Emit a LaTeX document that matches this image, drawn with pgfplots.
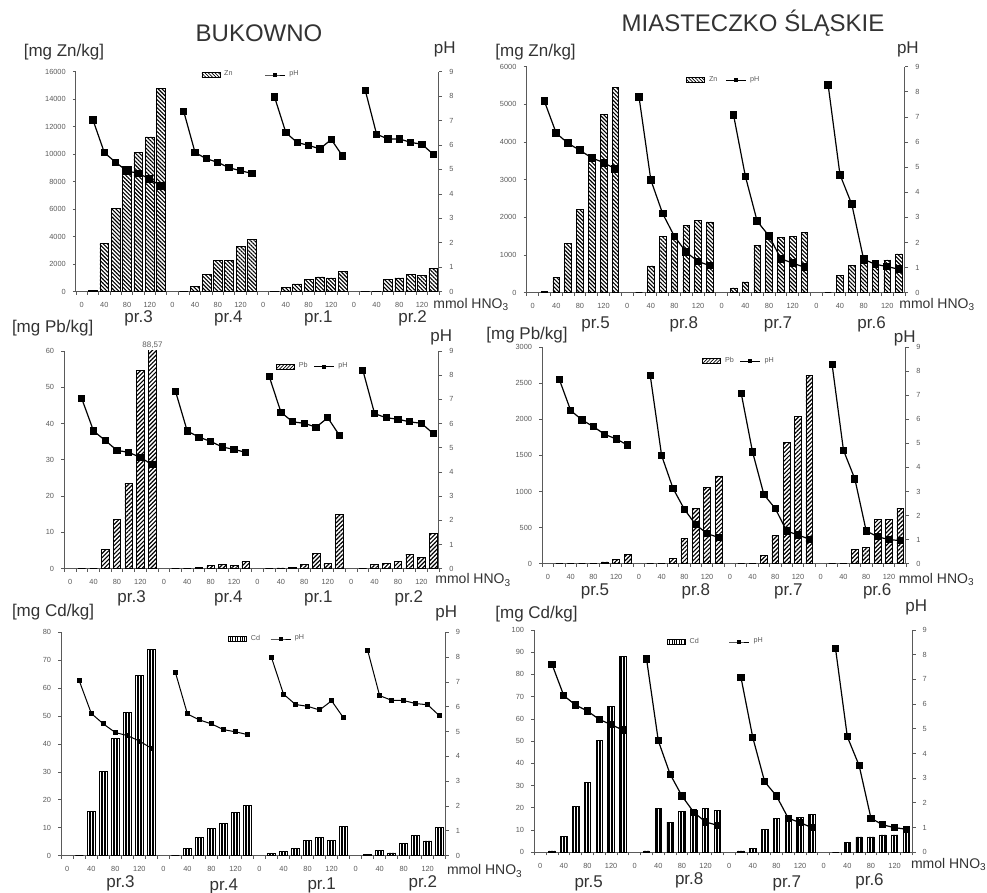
\documentclass[border=0pt]{standalone}
\usepackage{fontspec}
\setmainfont{Liberation Sans}
\usepackage{pgfplots}
\pgfplotsset{compat=1.18}
\usepackage{pgfplotstable}
\usetikzlibrary{patterns.meta}

\definecolor{ax}{HTML}{5A5A5A}
\definecolor{tx}{HTML}{333333}

\newcommand{\tkf}{\fontsize{3.7}{4.1}\selectfont}
\newcommand{\lgf}{\fontsize{3.6}{4}\selectfont}
\newcommand{\ubf}{\fontsize{8.5}{10}\selectfont}
\newcommand{\hno}{\fontsize{7}{8}\selectfont mmol HNO\textsubscript{3}}

\pgfplotsset{
  panel/.style={scale only axis, xmin=-0.5, xmax=31.5, ymin=0,
    unbounded coords=jump,
    axis line style={ax, line width=0.5pt},
    tick style={ax, line width=0.4pt},
    major tick length=1.6pt,
    tick align=outside,
    ticklabel style={font=\tkf, text=ax},
    /pgf/number format/assume math mode=true,
    /pgf/number format/1000 sep={},
    scaled y ticks=false},
  barax/.style={panel, axis y line*=left, axis x line*=bottom, ybar,
    xtick={-0.5,0.5,...,31.5}, xticklabels={},
    extra x ticks={0,2,...,30},
    extra x tick labels={0,40,80,120,0,40,80,120,0,40,80,120,0,40,80,120},
    extra x tick style={major tick length=0pt},
    xticklabel style={yshift=-2pt}},
  phax/.style={panel, axis y line*=right, axis x line=none, ymax=9, ytick={0,1,...,9},
    legend columns=2,
    legend style={draw=none, fill=none, font=\lgf, text=ax, anchor=center}},
  phline/.style={black, line width=0.6pt, mark=square*,
    legend image code/.code={\draw[mark repeat=2,mark phase=2,##1,mark size=0.8pt,line width=0.4pt] plot coordinates {(0pt,0pt) (5pt,0pt) (10pt,0pt)};}},
}

% x = slot (8 per sample: 0,20,...,140 mmol), m = metal, p = pH
\pgfplotstableread{
x m p
0 nan nan
1 100 7.02
2 3500 5.69
3 6050 5.29
4 9100 4.94
5 10130 4.84
6 11250 4.61
7 14800 4.32
8 nan nan
9 0 7.37
10 410 5.69
11 1280 5.44
12 2300 5.29
13 2300 5.07
14 3300 4.95
15 3800 4.84
16 nan nan
17 0 7.97
18 320 6.51
19 560 6.10
20 870 5.99
21 1070 5.84
22 1000 6.23
23 1450 5.55
24 nan nan
25 0 8.24
26 0 6.44
27 920 6.25
28 1000 6.25
29 1260 6.11
30 1210 6.03
31 1670 5.62
}\bZn

\pgfplotstableread{
x m p
0 nan nan
1 35 7.62
2 400 6.35
3 1300 5.95
4 2220 5.67
5 3590 5.37
6 4730 5.18
7 5450 4.93
8 nan nan
9 0 7.80
10 710 4.49
11 1500 3.15
12 1560 2.24
13 1780 1.61
14 1920 1.24
15 1880 1.08
16 nan nan
17 125 7.07
18 285 4.63
19 1260 2.84
20 1560 2.26
21 1470 1.35
22 1500 1.18
23 1610 1.01
24 nan nan
25 0 8.27
26 450 4.70
27 725 3.52
28 780 1.33
29 860 1.13
30 870 1.04
31 1030 0.93
}\mZn

\pgfplotstableread{
x m p
0 nan nan
1 0 7.02
2 0 5.69
3 5.3 5.30
4 13.6 4.89
5 23.5 4.81
6 54.6 4.60
7 88.57 4.30
8 nan nan
9 0 7.33
10 0 5.69
11 0.4 5.44
12 1.0 5.26
13 1.2 5.03
14 0.8 4.93
15 1.9 4.81
16 nan nan
17 0 7.95
18 0.2 6.47
19 0.4 6.07
20 1.2 6.01
21 4.1 5.85
22 1.4 6.24
23 15.0 5.51
24 nan nan
25 0 8.20
26 1.1 6.41
27 1.5 6.24
28 2.0 6.18
29 4.0 6.07
30 3.0 6.01
31 9.7 5.59
}\bPb

\pgfplotstableread{
x m p
0 nan nan
1 0 7.65
2 0 6.36
3 0 5.97
4 0 5.69
5 25 5.37
6 55 5.18
7 130 4.93
8 nan nan
9 0 7.81
10 0 4.49
11 75 3.13
12 346 2.26
13 766 1.62
14 1061 1.25
15 1214 1.09
16 nan nan
17 0 7.08
18 0 4.64
19 115 2.87
20 392 2.29
21 1684 1.36
22 2035 1.19
23 2603 1.02
24 nan nan
25 0 8.27
26 0 4.71
27 194 3.52
28 226 1.36
29 618 1.12
30 618 1.00
31 766 0.96
}\mPb

\pgfplotstableread{
x m p
0 nan nan
1 0 7.04
2 16.0 5.73
3 30.1 5.31
4 42.0 4.96
5 51.3 4.84
6 64.6 4.62
7 73.9 4.33
8 nan nan
9 0 7.38
10 2.6 5.71
11 6.6 5.47
12 9.8 5.31
13 11.7 5.08
14 15.5 4.99
15 18.1 4.88
16 nan nan
17 0.7 7.98
18 1.6 6.51
19 2.6 6.09
20 5.5 6.02
21 6.6 5.87
22 5.5 6.24
23 10.6 5.55
24 nan nan
25 0.5 8.28
26 2.0 6.45
27 1.0 6.26
28 4.3 6.25
29 7.2 6.13
30 5.3 6.08
31 10.0 5.63
}\bCd

\pgfplotstableread{
x m p
0 nan nan
1 0.6 7.61
2 7.2 6.34
3 20.5 5.96
4 31.5 5.72
5 50.5 5.38
6 65.8 5.17
7 88.0 4.95
8 nan nan
9 0.6 7.83
10 19.6 4.51
11 13.6 3.16
12 18.4 2.28
13 18.9 1.62
14 19.6 1.23
15 18.7 1.09
16 nan nan
17 0.6 7.07
18 1.8 4.64
19 10.2 2.86
20 15.3 2.28
21 15.4 1.38
22 15.6 1.20
23 17.2 1.00
24 nan nan
25 0 8.25
26 4.6 4.68
27 6.9 3.51
28 6.9 1.38
29 7.8 1.11
30 7.8 1.00
31 11.1 0.93
}\mCd

\begin{document}
\begin{tikzpicture}
\useasboundingbox (0pt,0pt) rectangle (493.5pt,446.5pt);

% ---------- Bukowno Zn ----------
\begin{axis}[barax, at={(38pt,300.65pt)}, anchor=south west, width=181.5pt, height=110pt,
  ymax=16000, ytick={0,2000,...,16000}, bar width=0.78]
\addplot[draw=black, line width=0.35pt, pattern={Lines[angle=-45,distance=1.4pt,line width=0.55pt]}] table[x=x,y=m]{\bZn};
\end{axis}
\begin{axis}[phax, at={(38pt,300.65pt)}, anchor=south west, width=181.5pt, height=110pt,
  legend style={at={(0.485,0.985)}, /tikz/every even column/.append style={column sep=14pt}}]
\addlegendimage{legend image code/.code={\draw[black,line width=0.3pt,pattern={Lines[angle=-45,distance=1.2pt,line width=0.35pt]}] (0pt,-1.3pt) rectangle (9pt,1.3pt);}}
\addlegendentry{Zn}
\addplot[phline, mark size=1.55pt] table[x=x,y=p]{\bZn};
\addlegendentry{pH}
\end{axis}

% ---------- Miasteczko Zn ----------
\begin{axis}[barax, at={(263.35pt,300.15pt)}, anchor=south west, width=189.15pt, height=113pt,
  ymax=6000, ytick={0,1000,...,6000}, bar width=0.56]
\addplot[draw=black, line width=0.35pt, pattern={Lines[angle=-45,distance=1.4pt,line width=0.55pt]}] table[x=x,y=m]{\mZn};
\end{axis}
\begin{axis}[phax, at={(263.35pt,300.15pt)}, anchor=south west, width=189.15pt, height=113pt,
  legend style={at={(0.524,0.941)}, /tikz/every even column/.append style={column sep=2pt}}]
\addlegendimage{legend image code/.code={\draw[black,line width=0.3pt,pattern={Lines[angle=-45,distance=1.2pt,line width=0.35pt]}] (0pt,-1.3pt) rectangle (9pt,1.3pt);}}
\addlegendentry{Zn}
\addplot[phline, mark size=1.65pt] table[x=x,y=p]{\mZn};
\addlegendentry{pH}
\end{axis}

% ---------- Bukowno Pb ----------
\begin{axis}[barax, at={(32.15pt,162.15pt)}, anchor=south west, width=187.35pt, height=108.85pt,
  ymax=60, ytick={0,10,...,60}, bar width=0.65]
\addplot[draw=black, line width=0.35pt, pattern={Lines[angle=45,distance=1.5pt,line width=0.6pt]}] table[x=x,y=m]{\bPb};
\end{axis}
\begin{axis}[phax, at={(32.15pt,162.15pt)}, anchor=south west, width=187.35pt, height=108.85pt,
  legend style={at={(0.666,0.927)}, /tikz/every even column/.append style={column sep=1pt}}]
\addlegendimage{legend image code/.code={\draw[black,line width=0.3pt,pattern={Lines[angle=45,distance=1.2pt,line width=0.35pt]}] (0pt,-1.3pt) rectangle (9pt,1.3pt);}}
\addlegendentry{Pb}
\addplot[phline, mark size=1.5pt] table[x=x,y=p]{\bPb};
\addlegendentry{pH}
\end{axis}

% ---------- Miasteczko Pb ----------
\begin{axis}[barax, at={(271.15pt,164.65pt)}, anchor=south west, width=181.85pt, height=108.35pt,
  ymax=3000, ytick={0,500,...,3000}, bar width=0.6]
\addplot[draw=black, line width=0.35pt, pattern={Lines[angle=45,distance=1.5pt,line width=0.6pt]}] table[x=x,y=m]{\mPb};
\end{axis}
\begin{axis}[phax, at={(271.15pt,164.65pt)}, anchor=south west, width=181.85pt, height=108.35pt,
  legend style={at={(0.544,0.935)}, /tikz/every even column/.append style={column sep=1pt}}]
\addlegendimage{legend image code/.code={\draw[black,line width=0.3pt,pattern={Lines[angle=45,distance=1.2pt,line width=0.35pt]}] (0pt,-1.3pt) rectangle (9pt,1.3pt);}}
\addlegendentry{Pb}
\addplot[phline, mark size=1.5pt] table[x=x,y=p]{\mPb};
\addlegendentry{pH}
\end{axis}

% ---------- Bukowno Cd ----------
\begin{axis}[barax, at={(30.65pt,18.65pt)}, anchor=south west, width=192.2pt, height=111.7pt,
  ymax=80, ytick={0,10,...,80}, bar width=0.66]
\addplot[draw=black, line width=0.35pt, pattern={Lines[angle=90,distance=1.5pt,line width=0.65pt]}] table[x=x,y=m]{\bCd};
\end{axis}
\begin{axis}[phax, at={(30.65pt,18.65pt)}, anchor=south west, width=192.2pt, height=111.7pt,
  legend style={at={(0.538,0.970)}, /tikz/every even column/.append style={column sep=3pt}}]
\addlegendimage{legend image code/.code={\draw[black,line width=0.3pt,pattern={Lines[angle=90,distance=1.2pt,line width=0.4pt]}] (0pt,-1.3pt) rectangle (9pt,1.3pt);}}
\addlegendentry{Cd}
\addplot[phline, line width=0.5pt, mark size=1pt] table[x=x,y=p]{\bCd};
\addlegendentry{pH}
\end{axis}

% ---------- Miasteczko Cd ----------
\begin{axis}[barax, at={(267.15pt,20.35pt)}, anchor=south west, width=189pt, height=111.15pt,
  ymax=100, ytick={0,10,...,100}, bar width=0.55]
\addplot[draw=black, line width=0.35pt, pattern={Lines[angle=90,distance=1.5pt,line width=0.65pt]}] table[x=x,y=m]{\mCd};
\end{axis}
\begin{axis}[phax, at={(267.15pt,20.35pt)}, anchor=south west, width=189pt, height=111.15pt,
  legend style={at={(0.483,0.946)}, /tikz/every even column/.append style={column sep=13pt}}]
\addlegendimage{legend image code/.code={\draw[black,line width=0.3pt,pattern={Lines[angle=90,distance=1.2pt,line width=0.4pt]}] (0pt,-1.3pt) rectangle (9pt,1.3pt);}}
\addlegendentry{Cd}
\addplot[phline, mark size=1.5pt] table[x=x,y=p]{\mCd};
\addlegendentry{pH}
\end{axis}

% ---------- titles and labels ----------
\begin{scope}[every node/.style={text=tx, inner sep=0pt}]
\node[anchor=base, font=\fontsize{12}{14}\selectfont] at (129.5pt,425.65pt) {BUKOWNO};
\node[anchor=base, font=\fontsize{12}{14}\selectfont] at (376.5pt,430.65pt) {MIASTECZKO ŚLĄSKIE};

\node[anchor=base west, font=\ubf] at (11.7pt,418.15pt) {[mg Zn/kg]};
\node[anchor=base west, font=\ubf] at (216.7pt,419.8pt) {pH};
\node[anchor=base west, font=\ubf] at (247.5pt,418.15pt) {[mg Zn/kg]};
\node[anchor=base west, font=\ubf] at (448.3pt,419.8pt) {pH};
\node[anchor=base west, font=\ubf] at (5.8pt,280.2pt) {[mg Pb/kg]};
\node[anchor=base west, font=\ubf] at (215pt,275.7pt) {pH};
\node[anchor=base west, font=\ubf] at (243pt,276.5pt) {[mg Pb/kg]};
\node[anchor=base west, font=\ubf] at (446.7pt,275.2pt) {pH};
\node[anchor=base west, font=\ubf] at (5.8pt,138.2pt) {[mg Cd/kg]};
\node[anchor=base west, font=\ubf] at (217.5pt,137.8pt) {pH};
\node[anchor=base west, font=\ubf] at (247.5pt,137.3pt) {[mg Cd/kg]};
\node[anchor=base west, font=\ubf] at (452.5pt,140.7pt) {pH};

\node[anchor=base west] at (216.5pt,292.3pt) {\hno};
\node[anchor=base west] at (449.5pt,292.3pt) {\hno};
\node[anchor=base west] at (217.5pt,154.5pt) {\hno};
\node[anchor=base west] at (449.2pt,154.8pt) {\hno};
\node[anchor=base west] at (223.3pt,9pt) {\hno};
\node[anchor=base west] at (455.3pt,12.3pt) {\hno};

\node[font=\fontsize{4}{5}\selectfont, text=ax] at (76.25pt,274pt) {88,57};

\foreach \x/\t in {69.3/pr.3, 114.2/pr.4, 159.2/pr.1, 206.3/pr.2}
  \node[anchor=base, font=\ubf] at (\x pt,285.3pt) {\t};
\foreach \x/\t in {297.8/pr.5, 341.9/pr.8, 389/pr.7, 435.8/pr.6}
  \node[anchor=base, font=\ubf] at (\x pt,282.2pt) {\t};
\foreach \x/\t in {65.8/pr.3, 114.2/pr.4, 159.2/pr.1, 204.4/pr.2}
  \node[anchor=base, font=\ubf] at (\x pt,145.3pt) {\t};
\foreach \x/\t in {297.5/pr.5, 347.9/pr.8, 394.2/pr.7, 438.6/pr.6}
  \node[anchor=base, font=\ubf] at (\x pt,148.6pt) {\t};
\foreach \x/\y/\t in {60.25/2.5/pr.3, 111.9/1/pr.4, 160.85/1.8/pr.1, 211.4/2.5/pr.2}
  \node[anchor=base, font=\ubf] at (\x pt,\y pt) {\t};
\foreach \x/\y/\t in {294.35/2.85/pr.5, 344.6/4/pr.8, 393.4/2.85/pr.7, 434.75/3.65/pr.6}
  \node[anchor=base, font=\ubf] at (\x pt,\y pt) {\t};
\end{scope}
\end{tikzpicture}
\end{document}
